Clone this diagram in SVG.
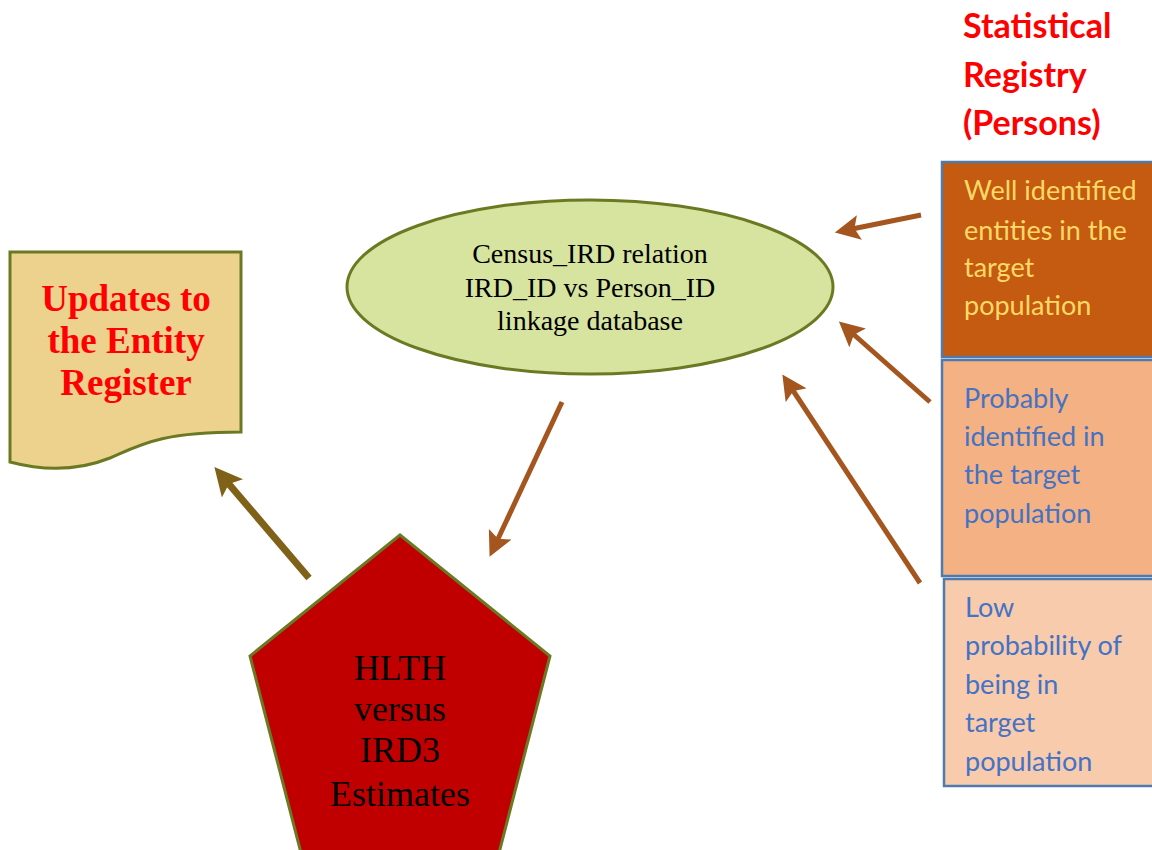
<svg xmlns="http://www.w3.org/2000/svg" width="1152" height="850" viewBox="0 0 1152 850">
<defs>
<style>
.serif{font-family:"Liberation Serif","Times New Roman",serif;}
.sans{font-family:Lato,"Liberation Sans",Arial,sans-serif;}
.olive{stroke:#6B7A22;stroke-width:3;}
.box{stroke:#4E7AAE;stroke-width:2.5;}
.arr{stroke:#A5561F;stroke-width:5;fill:none;marker-end:url(#ah);}
.arr2{stroke:#7F6117;stroke-width:7;fill:none;marker-end:url(#ah2);}
</style>
<marker id="ah" markerWidth="5" markerHeight="5" refX="1.5" refY="2.5" orient="auto" markerUnits="strokeWidth">
<path d="M0,0 L5,2.5 L0,5 L1,2.5 Z" fill="#A5561F"/>
</marker>
<marker id="ah2" markerWidth="4" markerHeight="4" refX="1" refY="2" orient="auto" markerUnits="strokeWidth">
<path d="M0,0 L4,2 L0,4 L0.8,2 Z" fill="#7F6117"/>
</marker>
</defs>
<rect width="1152" height="850" fill="#ffffff"/>

<g id="title">
<text class="sans" x="963" y="38" font-size="34" font-weight="bold" fill="#FF0000">Statistical</text>
<text class="sans" x="963" y="87" font-size="34" font-weight="bold" fill="#FF0000">Registry</text>
<text class="sans" x="963" y="135" font-size="34" font-weight="bold" fill="#FF0000">(Persons)</text>
</g>

<g id="box-well">
<rect class="box" x="942" y="162" width="215" height="195" fill="#C55A11"/>
<text class="sans" font-size="27" fill="#FFD966"><tspan x="964" y="200">Well identified</tspan><tspan x="964" y="240">entities in the</tspan><tspan x="964" y="277">target</tspan><tspan x="964" y="315">population</tspan></text>
</g>

<g id="box-probably">
<rect class="box" x="942" y="360" width="215" height="216" fill="#F4B183"/>
<text class="sans" font-size="27" fill="#4472C4"><tspan x="964" y="408">Probably</tspan><tspan x="964" y="446">identified in</tspan><tspan x="964" y="484">the target</tspan><tspan x="964" y="523">population</tspan></text>
</g>

<g id="box-low">
<rect class="box" x="944" y="579" width="213" height="207" fill="#F8CBAD"/>
<text class="sans" font-size="27" fill="#4472C4"><tspan x="965" y="617">Low</tspan><tspan x="965" y="655">probability of</tspan><tspan x="965" y="694">being in</tspan><tspan x="965" y="732">target</tspan><tspan x="965" y="771">population</tspan></text>
</g>

<g id="ellipse-census">
<ellipse class="olive" cx="590" cy="287" rx="243" ry="87" fill="#D7E4A0"/>
<text class="serif" font-size="28" fill="#000" text-anchor="middle"><tspan x="590" y="263">Census_IRD relation</tspan><tspan x="590" y="297">IRD_ID vs Person_ID</tspan><tspan x="590" y="330">linkage database</tspan></text>
</g>

<g id="doc-updates">
<path class="olive" d="M10,252 L241,252 L241,432 C160,432 140,445 110,458 C75,472 40,470 10,462 Z" fill="#EDD28E"/>
<text class="serif" font-size="37" font-weight="bold" fill="#FF0000" text-anchor="middle"><tspan x="126" y="311">Updates to</tspan><tspan x="126" y="353">the Entity</tspan><tspan x="126" y="395">Register</tspan></text>
</g>

<g id="pentagon-hlth">
<polygon class="olive" points="400,535 550,656 492,880 308,880 250,656" fill="#C00000"/>
<text class="serif" font-size="36" fill="#000" text-anchor="middle"><tspan x="400" y="680">HLTH</tspan><tspan x="400" y="721">versus</tspan><tspan x="400" y="762">IRD3</tspan><tspan x="400" y="806">Estimates</tspan></text>
</g>

<g id="connectors">
<line class="arr" x1="921" y1="215" x2="852" y2="229"/>
<line class="arr" x1="930" y1="402" x2="852" y2="333"/>
<line class="arr" x1="920" y1="583" x2="792" y2="389"/>
<line class="arr" x1="562" y1="402" x2="497" y2="541"/>
<line class="arr2" x1="309" y1="578" x2="228" y2="483"/>
</g>
</svg>
